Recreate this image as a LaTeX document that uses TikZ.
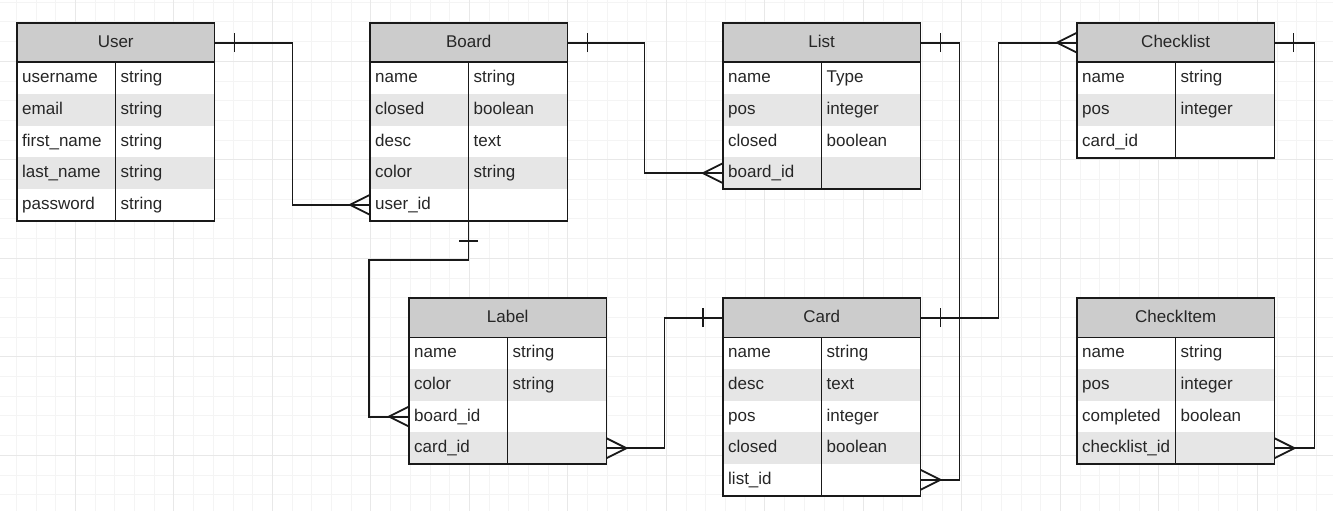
\documentclass[tikz,border=0pt]{standalone}
\usepackage{fontspec}
\setmainfont{Liberation Sans}
\usetikzlibrary{calc}

\definecolor{headgray}{HTML}{CCCCCC}
\definecolor{rowgray}{HTML}{E6E6E6}
\definecolor{gridminor}{HTML}{F4F4F4}
\definecolor{gridmajor}{HTML}{E8E8E8}

\tikzset{
  headbox/.style={draw=none, fill=headgray, minimum width=197, minimum height=39,
    inner sep=0, text height=12.5pt, text depth=3.5pt, text=black!85,
    font=\fontsize{17}{20}\selectfont},
  rowbox/.style={draw=none, minimum width=197, minimum height=31.6, inner sep=0},
  fieldtext/.style={inner sep=0, text height=12.5pt, text depth=3.5pt, text=black!85,
    font=\fontsize{17}{20}\selectfont},
  border/.style={draw=black!90, line width=1.8pt},
  link/.style={draw=black!90, line width=1.8pt},
}

% one table: name, top left corner, title, field/type rows
\newcommand\entity[4]{%
  \node[headbox, anchor=north west] (#1) at (#2) {#3};
  \foreach \f/\t [count=\i] in {#4} {
    \ifodd\i \def\rowfill{white}\else\def\rowfill{rowgray}\fi
    \node[rowbox, fill=\rowfill, anchor=north west] (#1-\i) at ($(#1.south west)+(0,{(\i-1)*31.6})$) {};
    \node[fieldtext, anchor=west] (#1-\i-f) at ($(#1-\i.west)+(5,0)$) {\f};
    \node[fieldtext, anchor=west] (#1-\i-t) at ($(#1-\i.west)+(103.5,0)$) {\t};
    \xdef\lastrow{\i}
  }
  \draw[border] (#1.north west) rectangle (#1-\lastrow.south east);
  \draw[border] (#1.south west) -- (#1.south east);
  \draw[border] ($(#1.south west)+(98.5,0)$) -- ($(#1-\lastrow.south west)+(98.5,0)$) coordinate (#1-div);
}
% bar across a link: point, offset along the link, half bar
\newcommand\oneend[3]{\draw[link] ($(#1)+(#2)+(#3)$) -- ($(#1)+(#2)-(#3)$);}
% crow's foot: point on the edge, x offset of its tip
\newcommand\manyend[2]{\draw[link] ($(#1)+(0,-10)$) -- ($(#1)+(#2,0)$) -- ($(#1)+(0,10)$);}

\begin{document}
\begin{tikzpicture}[x=1pt, y=-1pt, >=latex]
\useasboundingbox (0,0) rectangle (1333,511);
\fill[white] (0,0) rectangle (1333,511);

% background grid
\foreach \k in {0,...,67} \draw[gridminor, line width=1pt] ({16.3+\k*19.7},0) -- ++(0,511);
\foreach \k in {0,...,25} \draw[gridminor, line width=1pt] (0,{2.2+\k*19.7}) -- ++(1333,0);
\foreach \k in {0,...,12} \draw[gridmajor, line width=1.2pt] ({75.3+\k*98.5},0) -- ++(0,511);
\foreach \k in {0,...,4} \draw[gridmajor, line width=1.2pt] (0,{61.3+\k*98.5}) -- ++(1333,0);

\entity{user}{17,23}{User}{username/string, email/string, first\_name/string, last\_name/string, password/string}
\entity{board}{370,23}{Board}{name/string, closed/boolean, desc/text, color/string, user\_id/{}}
\entity{list}{723,23}{List}{name/Type, pos/integer, closed/boolean, board\_id/{}}
\entity{checklist}{1077,23}{Checklist}{name/string, pos/integer, card\_id/{}}
\entity{label}{409,298}{Label}{name/string, color/string, board\_id/{}, card\_id/{}}
\entity{card}{723,298}{Card}{name/string, desc/text, pos/integer, closed/boolean, list\_id/{}}
\entity{checkitem}{1077,298}{CheckItem}{name/string, pos/integer, completed/boolean, checklist\_id/{}}

% relations
\draw[link] (user.east) -- ++(78,0) |- (board-5.west);
\oneend{user.east}{20,0}{0,9.5}
\manyend{board-5.west}{-20}

\draw[link] (board.east) -- ++(77,0) |- (list-4.west);
\oneend{board.east}{20,0}{0,9.5}
\manyend{list-4.west}{-20}

\draw[link] (board-div) -- ++(0,39) -- ++(-99.5,0) |- (label-3.west);
\oneend{board-div}{0,20}{9.5,0}
\manyend{label-3.west}{-20}

\draw[link] (label-4.east) -- ++(58,0) |- (card.west);
\oneend{card.west}{-20,0}{0,9.5}
\manyend{label-4.east}{20}

\draw[link] (list.east) -- ++(39,0) |- (card-5.east);
\oneend{list.east}{20,0}{0,9.5}
\manyend{card-5.east}{20}

\draw[link] (card.east) -- ++(78,0) |- (checklist.west);
\oneend{card.east}{20,0}{0,9.5}
\manyend{checklist.west}{-20}

\draw[link] (checklist.east) -- ++(40,0) |- (checkitem-4.east);
\oneend{checklist.east}{19,0}{0,9.5}
\manyend{checkitem-4.east}{20}
\end{tikzpicture}
\end{document}
